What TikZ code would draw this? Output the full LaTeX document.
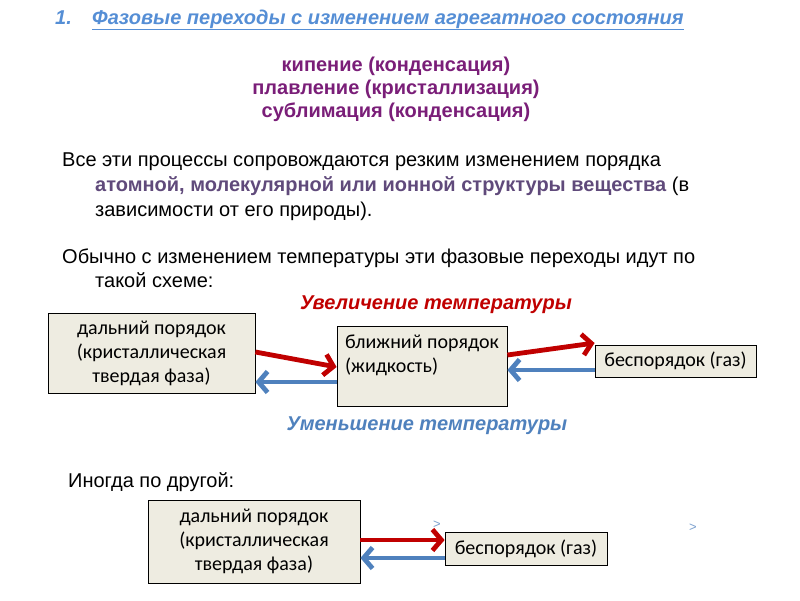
\documentclass[tikz,border=0pt]{standalone}
\usepackage{fontspec}
\setmainfont{Liberation Sans}
\newfontfamily\boxfont{Carlito}
\usepackage{xcolor}
\usetikzlibrary{arrows.meta, positioning}

\definecolor{titleblue}{HTML}{558ED5}
\definecolor{phasepurple}{HTML}{7A1E78}
\definecolor{greypurple}{HTML}{604A7B}
\definecolor{heatred}{HTML}{C00000}
\definecolor{coolblue}{HTML}{4F81BD}
\definecolor{statefill}{HTML}{EEECE1}

\begin{document}
\begin{tikzpicture}[
    x=1pt, y=-1pt,
    line/.style={anchor=base west, inner sep=0pt, font=\fontsize{20}{24}\selectfont},
    phase/.style={anchor=base, inner sep=0pt, font=\fontsize{20}{24}\selectfont\bfseries, text=phasepurple},
    templabel/.style={anchor=base, inner sep=0pt, font=\fontsize{20}{24}\selectfont\bfseries\itshape},
    state/.style={rectangle, draw=black, line width=0.8pt, fill=statefill, font=\boxfont\fontsize{20}{24}\selectfont, align=center, inner sep=0pt},
    heat/.style={-{Straight Barb[length=9pt, width=21pt]}, line width=4.8pt, heatred},
    cool/.style={-{Straight Barb[length=9pt, width=21pt]}, line width=4.8pt, coolblue},
    stray/.style={inner sep=0pt, font=\fontsize{13}{13}\selectfont, text=coolblue!75}
]
    \useasboundingbox (0,0) rectangle (800,600);

    % heading
    \node[line, text=titleblue, font=\fontsize{20}{24}\selectfont\bfseries\itshape] (num) at (55,24) {1.};
    \node[line, text=titleblue, font=\fontsize{20}{24}\selectfont\bfseries\itshape] (title) at (92,24) {\underline{Фазовые переходы с изменением агрегатного состояния}};

    \node[phase] (boil) at (396,71) {кипение (конденсация)};
    \node[phase] (melt) at (396,94) {плавление (кристаллизация)};
    \node[phase] (subl) at (396,117) {сублимация (конденсация)};

    % text
    \node[line] (p1) at (62,166) {Все эти процессы сопровождаются резким изменением порядка};
    \node[line] (p2) at (95,191) {\textcolor{greypurple}{\bfseries атомной, молекулярной или ионной структуры вещества} (в};
    \node[line] (p3) at (95,216) {зависимости от его природы).};
    \node[line] (q1) at (62,263) {Обычно с изменением температуры эти фазовые переходы идут по};
    \node[line] (q2) at (95,287) {такой схеме:};

    % first scheme
    \node[templabel, text=heatred] (up) at (436,309) {Увеличение температуры};
    \node[state, minimum width=207pt, minimum height=80pt] (solid) at (151.5,353) {дальний порядок\\(кристаллическая\\твердая фаза)};
    \node[state, minimum width=170pt, minimum height=80pt, align=left] (liquid) at (422,366) {ближний порядок\\(жидкость)\\\mbox{}};
    \node[state, minimum width=161pt, minimum height=32pt] (gas) at (675.5,361) {беспорядок (газ)};
    \node[templabel, text=coolblue] (down) at (427,430) {Уменьшение температуры};

    \draw[heat] ([yshift=1pt]solid.east) -- ([yshift=-1pt]liquid.west);
    \draw[cool] ([yshift=-16pt]liquid.west) -- ([yshift=-29pt]solid.east);
    \draw[heat] ([yshift=11pt]liquid.east) -- ([yshift=18pt]gas.west);
    \draw[cool] ([yshift=-9pt]gas.west) -- ([yshift=-4pt]liquid.east);

    % second scheme
    \node[line] (r1) at (68,487) {Иногда по другой:};
    \node[state, minimum width=212pt, minimum height=83pt] (solid2) at (254,541.5) {дальний порядок\\(кристаллическая\\твердая фаза)};
    \node[state, minimum width=162pt, minimum height=33pt] (gas2) at (526,548.5) {беспорядок (газ)};

    \draw[heat] ([yshift=1.5pt]solid2.east) -- ([yshift=8.5pt]gas2.west);
    \draw[cool] ([yshift=-9.5pt]gas2.west) -- ([yshift=-16.5pt]solid2.east);

    \node[stray] (mark1) at (437,525) {>};
    \node[stray] (mark2) at (693,528) {>};
\end{tikzpicture}
\end{document}
